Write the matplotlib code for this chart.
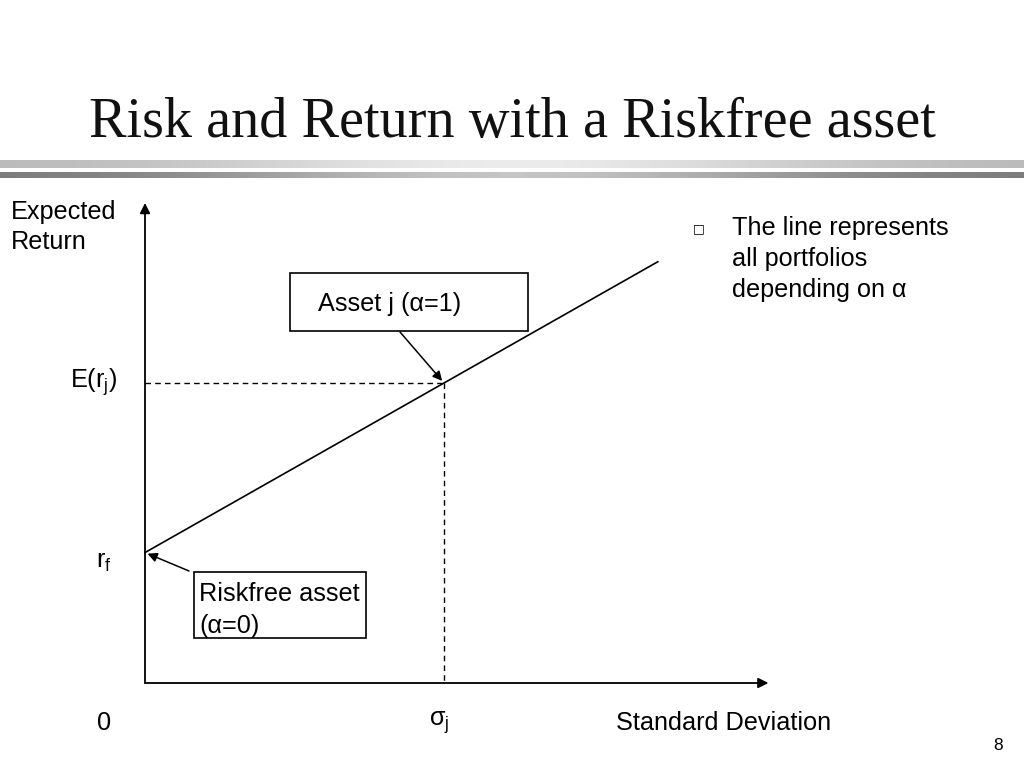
import matplotlib
matplotlib.use('Agg')
import matplotlib.pyplot as plt
from matplotlib.patches import Rectangle
import numpy as np

# data (units: percent)
rf = 5.0
sigma_j = 20.0
exp_rj = 11.5
sigma_max = 34.3
x_axis_end = 41.7
y_axis_end = 18.4

alpha_labels = ["Riskfree asset\n(\u03b1=0)", "Asset j (\u03b1=1)"]
title = "Risk and Return with a Riskfree asset"
bullet_text = "The line represents\nall portfolios\ndepending on \u03b1"

W, H = 1024, 768
plt.rcParams['font.family'] = ['Liberation Sans', 'DejaVu Sans']

fig = plt.figure(figsize=(W / 100, H / 100), dpi=100)

# pixel-space overlay for slide decorations
ov = fig.add_axes([0, 0, 1, 1])
ov.set_xlim(0, W)
ov.set_ylim(H, 0)
ov.axis('off')

# main data axes: origin at pixel (145, 683)
px_x = 299 / sigma_j
px_y = 300 / exp_rj
ax = fig.add_axes([0, 0, 1, 1], facecolor='none')
ax.set_xlim(-145 / px_x, (W - 145) / px_x)
ax.set_ylim((683 - H) / px_y, 683 / px_y)
ax.axis('off')

# title bands (gradient)
t = np.linspace(0, 1, 400)
light = 0.72 + 0.20 * np.exp(-((t - 0.5) / 0.3) ** 2)
dark = 0.47 + 0.30 * np.exp(-((t - 0.5) / 0.3) ** 2)
ov.imshow(light[None, :], cmap='gray', vmin=0, vmax=1, aspect='auto',
          extent=(0, W, 168, 160))
ov.imshow(dark[None, :], cmap='gray', vmin=0, vmax=1, aspect='auto',
          extent=(0, W, 178, 172))
ov.set_xlim(0, W)
ov.set_ylim(H, 0)

ov.text(89, 123, title, fontsize=40.5, family=['Liberation Serif', 'DejaVu Serif'],
        ha='left', va='center', color='#111111')

# axes with arrows
arrow_kw = dict(arrowstyle='-|>', color='black', lw=1.3, mutation_scale=15,
                shrinkA=0, shrinkB=0)
ax.annotate('', xy=(0, y_axis_end), xytext=(0, 0), arrowprops=arrow_kw)
ax.annotate('', xy=(x_axis_end, 0), xytext=(0, 0), arrowprops=arrow_kw)

# capital allocation line
sig = np.array([0, sigma_max])
ret = rf + (exp_rj - rf) / sigma_j * sig
ax.plot(sig, ret, color='black', lw=1.2)

# dashed guides
ax.plot([0, sigma_j], [exp_rj, exp_rj], color='black', lw=1.0, ls=(0, (4, 3)))
ax.plot([sigma_j, sigma_j], [exp_rj, 0], color='black', lw=1.0, ls=(0, (4, 3)))

# boxes
ov.add_patch(Rectangle((290, 273), 238, 58, fill=False, lw=1.2, ec='black'))
ov.add_patch(Rectangle((194, 572), 172, 66, fill=False, lw=1.2, ec='black'))
fs = 18.2
ov.text(318, 304, alpha_labels[1], fontsize=fs, ha='left', va='center')
ov.text(199, 610, alpha_labels[0], fontsize=fs, ha='left', va='center',
        linespacing=1.42)

# pointer arrows
ptr_kw = dict(arrowstyle='-|>', color='black', lw=1.1, mutation_scale=14,
              shrinkA=0, shrinkB=2)
ax.annotate('', xy=(sigma_j, exp_rj), xytext=(400, 332), textcoords=ov.transData,
            arrowprops=ptr_kw)
ax.annotate('', xy=(0, rf), xytext=(189, 571), textcoords=ov.transData,
            arrowprops=ptr_kw)

# axis labels
ov.text(11, 227, "Expected\nReturn", fontsize=fs, ha='left', va='center',
        linespacing=1.35)
ov.text(70, 382, "E(r$_\\mathregular{j}$)", fontsize=fs, ha='left', va='center')
ov.text(96, 562, "r$_\\mathregular{f}$", fontsize=fs, ha='left', va='center')
ov.text(97, 723, "0", fontsize=fs, ha='left', va='center')
ov.text(429, 723, "\u03c3$_\\mathregular{j}$", fontsize=fs, ha='left', va='center')
ov.text(616, 723, "Standard Deviation", fontsize=fs, ha='left', va='center')
ov.text(1003, 745, "8", fontsize=12.5, ha='right', va='center')

# bullet text
ov.text(699, 229, "\u25a1", fontsize=9, ha='center', va='center',
        family=['DejaVu Sans'])
ov.text(732, 259, bullet_text, fontsize=fs, ha='left', va='center',
        linespacing=1.37)

fig.savefig('out.png', dpi=100)
